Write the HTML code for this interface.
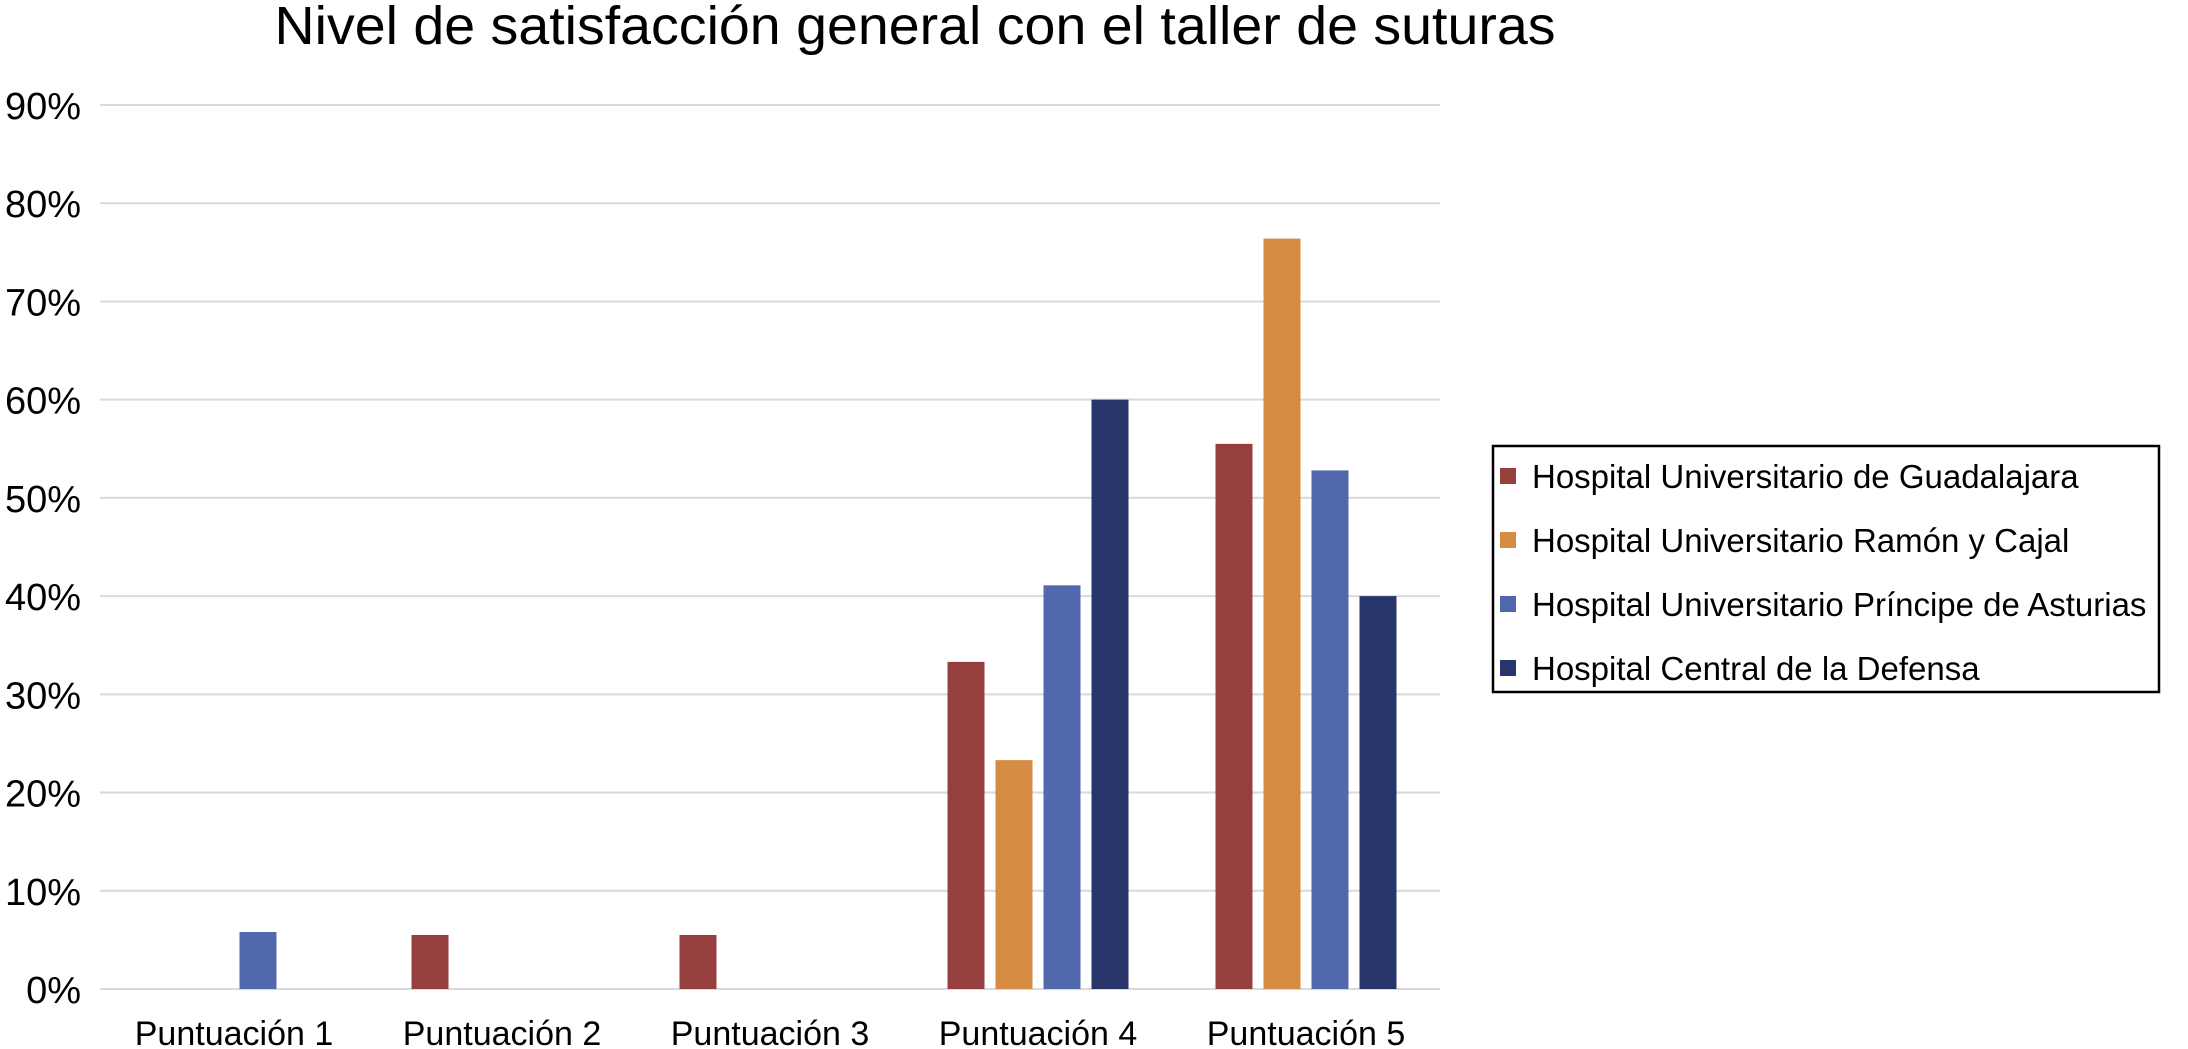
<!DOCTYPE html>
<html><head><meta charset="utf-8"><style>
html,body{margin:0;padding:0;background:#fff;}
svg{display:block;font-family:"Liberation Sans",Arial,sans-serif;}
</style></head><body>
<svg id="chart" width="2188" height="1049" viewBox="0 0 2188 1049">
<text x="915" y="44" text-anchor="middle" font-size="54" textLength="1281" lengthAdjust="spacingAndGlyphs" fill="#000">Nivel de satisfacción general con el taller de suturas</text>
<g id="grid"></g><g id="bars"></g><g id="xlabels"></g>
<g id="legend">
<rect x="1493" y="446" width="666" height="246" fill="#fff" stroke="#000" stroke-width="2.5"/>
</g>
</svg>
<script>
const categories = ["Puntuación 1","Puntuación 2","Puntuación 3","Puntuación 4","Puntuación 5"];
const seriesNames = ["Hospital Universitario de Guadalajara","Hospital Universitario Ramón y Cajal","Hospital Universitario Príncipe de Asturias","Hospital Central de la Defensa"];
const guadalajara = [0, 5.5, 5.5, 33.3, 55.5];
const ramonCajal = [0, 0, 0, 23.3, 76.4];
const principeAsturias = [5.8, 0, 0, 41.1, 52.8];
const centralDefensa = [0, 0, 0, 60, 40];
const yTicks = [0,10,20,30,40,50,60,70,80,90];
const yTickLabels = ["0%","10%","20%","30%","40%","50%","60%","70%","80%","90%"];

const series = [guadalajara, ramonCajal, principeAsturias, centralDefensa];
const colors = ["#953f3e","#d58b42","#5168ad","#27356a"];
const NS = "http://www.w3.org/2000/svg";
const X0 = 100, X1 = 1440, Y0 = 989, Y90 = 105;
const yScale = v => Y0 - (v/90)*(Y0-Y90);
const band = (X1-X0)/categories.length;
const xCenter = i => X0 + band*(i+0.5);
const barW = 37, step = 48;
function mk(tag, attrs, parent){const e=document.createElementNS(NS,tag);for(const k in attrs)e.setAttribute(k,attrs[k]);parent.appendChild(e);return e;}

const grid = document.getElementById('grid');
yTicks.forEach((t,i)=>{
  const y = yScale(t);
  const l = mk('line',{x1:X0,x2:X1,y1:y,y2:y,stroke:'#d9d9d9','stroke-width':2},grid);
  
  
  const tx = mk('text',{x:81,y:y+14,'text-anchor':'end','font-size':38,fill:'#000'},grid);
  tx.textContent = yTickLabels[i];
  
  
});

const bars = document.getElementById('bars');
categories.forEach((c,ci)=>{
  series.forEach((s,si)=>{
    const v = s[ci];
    if(!v) return;
    const cx = xCenter(ci) + (si-1.5)*step;
    const y = yScale(v);
    const r = mk('rect',{x:cx-barW/2,y:y,width:barW,height:Y0-y,fill:colors[si]},bars);
    
    
  });
  const t = mk('text',{x:xCenter(ci),y:1045,'text-anchor':'middle','font-size':34,fill:'#000'},document.getElementById('xlabels'));
  t.textContent = c;
  
  
});

const legend = document.getElementById('legend');
seriesNames.forEach((n,i)=>{
  const y = 476 + i*64;
  const sw = mk('rect',{x:1500,y:y-8,width:16,height:16,fill:colors[i]},legend);
  
  
  const t = mk('text',{x:1532,y:y+12,'font-size':33,fill:'#000'},legend);
  t.textContent = n;
  
  
});
</script>
</body></html>
